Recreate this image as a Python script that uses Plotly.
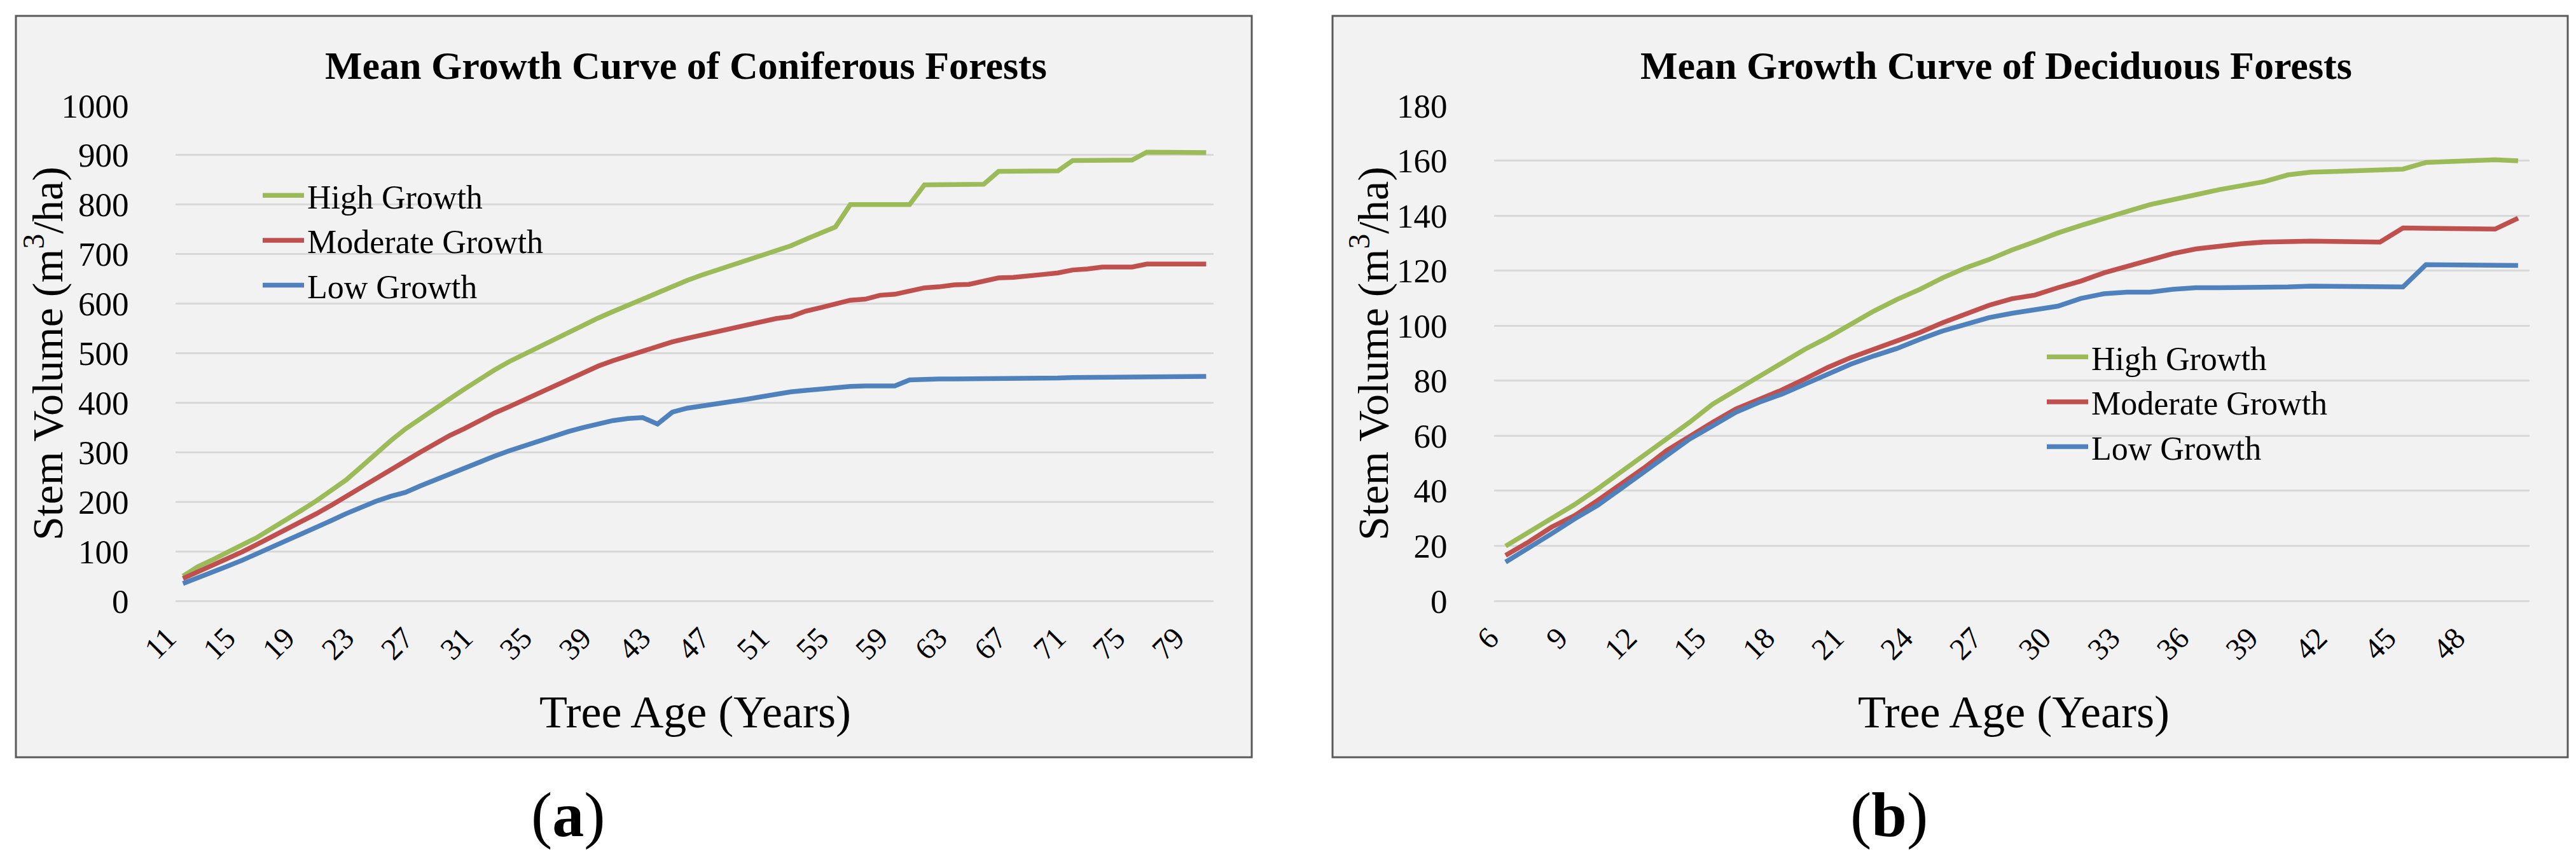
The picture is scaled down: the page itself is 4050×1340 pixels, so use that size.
import plotly.graph_objects as go

W, H = 4050, 1340

# coniferous forests, ages 11-80
con_age = list(range(11, 81))
con_high = [50, 69, 83, 97, 113, 128, 146, 163, 183, 202,
            222, 244, 270, 297, 323, 347, 368, 389, 408, 428,
            448, 466, 483, 498, 513, 528, 543, 557, 571, 584,
            597, 610, 622, 635, 647, 658, 668, 676, 686, 696,
            707, 717, 730, 742, 755, 800, 800, 800, 801, 800,
            840, 840, 840, 841, 841, 867, 867, 867, 867, 868,
            889, 889, 890, 890, 890, 906, 906, 906, 906, 905]
con_mod = [45, 58, 72, 85, 99, 114, 129, 144, 159, 176,
           193, 211, 230, 248, 265, 283, 300, 317, 334, 348,
           364, 379, 392, 406, 419, 433, 446, 461, 474, 485,
           495, 505, 513, 523, 530, 537, 543, 549, 556, 564,
           570, 574, 585, 592, 600, 607, 609, 617, 619, 626,
           632, 634, 638, 639, 646, 652, 653, 657, 659, 662,
           668, 670, 674, 674, 674, 680, 680, 680, 680, 680]
con_low = [35, 46, 58, 70, 82, 95, 109, 122, 136, 149,
           162, 176, 189, 201, 211, 219, 232, 244, 258, 270,
           281, 292, 303, 313, 323, 334, 342, 350, 358, 364,
           368, 370, 357, 381, 389, 393, 397, 402, 407, 412,
           418, 422, 425, 428, 431, 433, 434, 434, 434, 446,
           448, 448, 448, 448, 448, 449, 449, 450, 450, 450,
           451, 451, 451, 451, 451, 453, 453, 453, 453, 453]
con_ticks = [11, 15, 19, 23, 27, 31, 35, 39, 43, 47, 51, 55, 59, 63, 67, 71, 75, 79]

# deciduous forests, ages 6-50
dec_age = list(range(6, 51))
dec_high = [19.9, 25, 29.8, 35, 40.7, 46.7, 52.5, 58.8, 64.9, 71.5,
            76.6, 81.5, 86.8, 91.4, 95.7, 100.5, 105.3, 109.5, 113.2, 117.4,
            121, 124, 127.5, 130.5, 133.7, 136.4, 139.1, 141.5, 144, 146,
            147.6, 149.4, 150.8, 152.4, 154.8, 155.8, 156, 156.3, 156.4, 156.9,
            159.3, 159.7, 160.3, 160.3, 159.9]
dec_mod = [16.5, 21.4, 26.8, 31, 36.5, 42.1, 48.2, 54.6, 60, 64.9,
           69.7, 73.1, 76.6, 80.6, 84.8, 88.4, 91.4, 94.4, 97.5, 101.1,
           104.1, 107.4, 109.8, 111.1, 113.8, 116.2, 119.2, 121.6, 124, 126.2,
           127.9, 128.9, 129.8, 130.4, 130.7, 130.7, 130.6, 130.6, 130.4, 135.5,
           135.5, 135.4, 135.4, 135.1, 139.1]
dec_low = [14.1, 19, 24.4, 29.8, 34.7, 40.7, 46.7, 52.8, 58.8, 63.6,
           68.5, 72.1, 75.1, 78.7, 82.4, 86, 89, 91.7, 95, 98.1,
           100.5, 102.9, 104.5, 105.8, 107.1, 109.9, 111.6, 112.2, 112.2, 113.2,
           113.8, 113.8, 113.8, 113.8, 114.1, 114.4, 114.4, 114.4, 114.4, 114.1,
           122.2, 122.2, 122.2, 121.9, 121.9]
dec_ticks = [6, 9, 12, 15, 18, 21, 24, 27, 30, 33, 36, 39, 42, 45, 48]

series_names = ["High Growth", "Moderate Growth", "Low Growth"]
colors = ["#9bbb59", "#c0504d", "#4f81bd"]

FONT = "Liberation Serif, Times New Roman, serif"
GRID = "#d9d9d9"


def px(x):
    return x / W


def py(y):
    return 1 - y / H


fig = go.Figure()

for name, vals, col in zip(series_names, [con_high, con_mod, con_low], colors):
    fig.add_trace(go.Scatter(x=con_age, y=vals, mode="lines", name=name,
                             line=dict(color=col, width=7.5),
                             xaxis="x", yaxis="y", legend="legend"))
for name, vals, col in zip(series_names, [dec_high, dec_mod, dec_low], colors):
    fig.add_trace(go.Scatter(x=dec_age, y=vals, mode="lines", name=name,
                             line=dict(color=col, width=7.5),
                             xaxis="x2", yaxis="y2", legend="legend2"))

# excel puts the end of the rotated label under the category, plotly the start
xcommon = dict(showgrid=False, zeroline=False, showline=False, tickangle=-45,
               ticks="outside", ticklen=10, tickcolor="rgba(0,0,0,0)",
               ticklabelshift=-25, automargin=False,
               tickfont=dict(family=FONT, size=48, color="#000000"))
ycommon = dict(showgrid=True, gridcolor=GRID, gridwidth=2.5, zeroline=True,
               zerolinecolor=GRID, zerolinewidth=2.5, showline=False,
               ticks="outside", ticklen=62, tickcolor="rgba(0,0,0,0)",
               automargin=False,
               tickfont=dict(family=FONT, size=53, color="#000000"))

legend_common = dict(xanchor="left", yanchor="middle", bgcolor="rgba(0,0,0,0)",
                     itemwidth=65,
                     font=dict(family=FONT, size=52, color="#000000"))

ydom = [py(937), py(158)]
fig.update_layout(
    width=W, height=H,
    margin=dict(l=0, r=0, t=0, b=0, autoexpand=False),
    paper_bgcolor="white",
    plot_bgcolor="rgba(0,0,0,0)",
    xaxis=dict(domain=[px(268), px(1900)], range=[10.5, 80.5], tickvals=con_ticks,
               anchor="y", **xcommon),
    yaxis=dict(domain=ydom, range=[0, 1000], dtick=100, anchor="x", **ycommon),
    xaxis2=dict(domain=[px(2341), px(3969)], range=[5.5, 50.5], tickvals=dec_ticks,
                anchor="y2", **xcommon),
    yaxis2=dict(domain=ydom, range=[0, 180], dtick=20, anchor="x2", **ycommon),
    legend=dict(x=px(400), y=py(370), **legend_common),
    legend2=dict(x=px(3205), y=py(624), **legend_common),
    showlegend=True,
)

# panel frames
for x0, x1 in [(17, 1960), (2087, 4029)]:
    fig.add_shape(type="rect", xref="paper", yref="paper",
                  x0=px(x0), x1=px(x1), y0=py(1183), y1=py(17),
                  fillcolor="#f2f2f2", line=dict(color="#595959", width=3),
                  layer="below")

texts = [
    ("<b>Mean Growth Curve of Coniferous Forests</b>", 1070, 95, 62, 0),
    ("<b>Mean Growth Curve of Deciduous Forests</b>", 3130, 95, 62, 0),
    ("Stem Volume (m<sup>3</sup>/ha)", 62, 548, 68, -90),
    ("Stem Volume (m<sup>3</sup>/ha)", 2146, 548, 68, -90),
    ("Tree Age (Years)", 1085, 1112, 72, 0),
    ("Tree Age (Years)", 3158, 1112, 72, 0),
    ("(<b>a</b>)", 885, 1273, 100, 0),
    ("(<b>b</b>)", 2962, 1273, 100, 0),
]
for txt, x, y, size, ang in texts:
    fig.add_annotation(text=txt, x=px(x), y=py(y), xref="paper", yref="paper",
                       xanchor="center", yanchor="middle", showarrow=False,
                       textangle=ang,
                       font=dict(family=FONT, size=size, color="#000000"))

fig.write_html("out.html")
